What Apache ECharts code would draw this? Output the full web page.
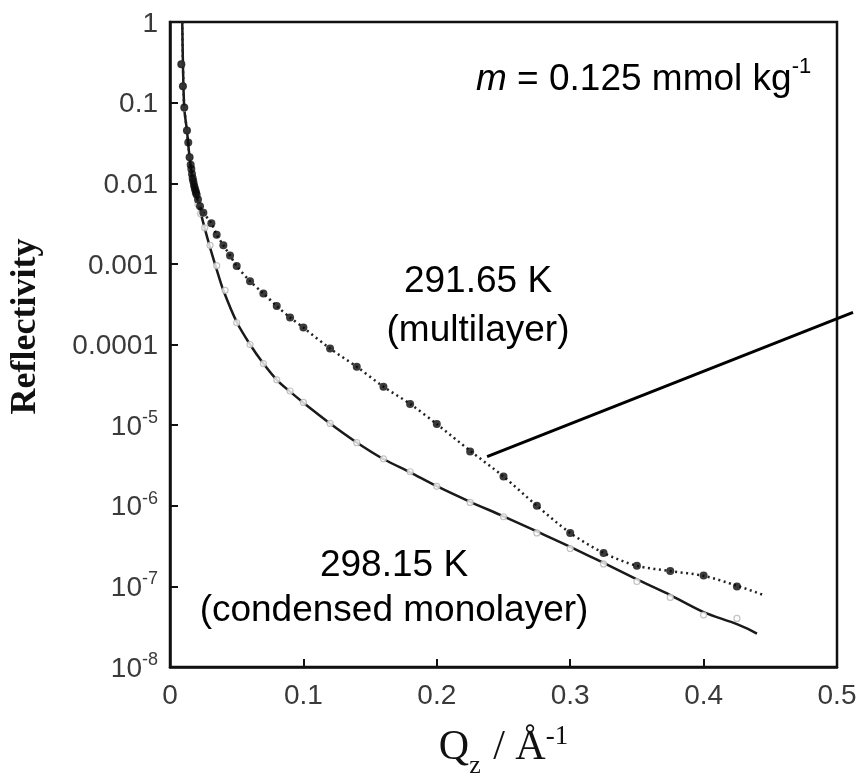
<!DOCTYPE html>
<html>
<head>
<meta charset="utf-8">
<script src="https://cdn.jsdelivr.net/npm/echarts@6/dist/echarts.min.js"></script>
<style>
  html, body { margin: 0; padding: 0; background: #fff; }
  #chart { width: 861px; height: 784px; }
</style>
</head>
<body>
<div id="chart"></div>
<script>
// 291.65 K (multilayer): measured reflectivity
const multiQ = [0.0085, 0.0097, 0.0107, 0.0127, 0.0137, 0.0147, 0.0155, 0.016, 0.0165, 0.017, 0.0175, 0.018, 0.0185, 0.019, 0.0195, 0.02, 0.021, 0.0225, 0.025, 0.031, 0.035, 0.04, 0.045, 0.05, 0.06, 0.07, 0.08, 0.09, 0.1, 0.12, 0.14, 0.16, 0.18, 0.2, 0.225, 0.25, 0.275, 0.3, 0.325, 0.35, 0.375, 0.4, 0.425];
const multiR = [0.30, 0.16, 0.087, 0.045, 0.032, 0.021, 0.017, 0.015, 0.013, 0.0115, 0.0105, 0.0095, 0.0088, 0.0082, 0.0077, 0.0072, 0.0063, 0.0052, 0.0043, 0.0032, 0.0023, 0.0017, 0.00127, 0.00094, 0.00061, 0.00043, 0.0003, 0.000216, 0.000162, 8.9e-5, 5.3e-5, 3.0e-5, 1.83e-5, 1.03e-5, 4.7e-6, 2.3e-6, 1.0e-6, 4.6e-7, 2.6e-7, 1.8e-7, 1.55e-7, 1.36e-7, 1.0e-7];

// 291.65 K model fit
const multiFitQ = [0.0092, 0.0097, 0.0107, 0.0127, 0.0147, 0.017, 0.02, 0.0225, 0.025, 0.031, 0.035, 0.04, 0.045, 0.05, 0.06, 0.07, 0.08, 0.09, 0.1, 0.12, 0.14, 0.16, 0.18, 0.2, 0.225, 0.25, 0.275, 0.3, 0.325, 0.35, 0.375, 0.4, 0.425, 0.445];
const multiFitR = [1, 0.30, 0.087, 0.045, 0.021, 0.0115, 0.0072, 0.0052, 0.0043, 0.0032, 0.0023, 0.0017, 0.00127, 0.00094, 0.00061, 0.00043, 0.0003, 0.000216, 0.000162, 8.9e-5, 5.3e-5, 3.0e-5, 1.83e-5, 1.03e-5, 4.8e-6, 2.3e-6, 1.0e-6, 4.6e-7, 2.6e-7, 1.8e-7, 1.55e-7, 1.35e-7, 1.02e-7, 7.8e-8];

// 298.15 K (condensed monolayer): measured reflectivity
const monoQ = [0.0085, 0.0097, 0.0107, 0.0127, 0.0147, 0.017, 0.019, 0.021, 0.023, 0.026, 0.03, 0.035, 0.0413, 0.05, 0.06, 0.07, 0.08, 0.09, 0.1, 0.12, 0.14, 0.16, 0.18, 0.2, 0.225, 0.25, 0.275, 0.3, 0.325, 0.35, 0.375, 0.4, 0.425];
const monoR = [0.30, 0.16, 0.085, 0.045, 0.021, 0.011, 0.0075, 0.0055, 0.0042, 0.0028, 0.0017, 0.00095, 0.00047, 0.000186, 0.0001, 5.8e-5, 3.65e-5, 2.65e-5, 1.91e-5, 1.05e-5, 6.05e-6, 3.82e-6, 2.64e-6, 1.74e-6, 1.1e-6, 7.3e-7, 4.6e-7, 2.95e-7, 1.9e-7, 1.15e-7, 7.3e-8, 4.4e-8, 4.0e-8];

// 298.15 K model fit
const monoFitQ = [0.0092, 0.0097, 0.0107, 0.0127, 0.0147, 0.017, 0.02, 0.025, 0.03, 0.035, 0.04, 0.05, 0.06, 0.07, 0.08, 0.09, 0.1, 0.12, 0.14, 0.16, 0.18, 0.2, 0.225, 0.25, 0.275, 0.3, 0.325, 0.35, 0.375, 0.4, 0.425, 0.44];
const monoFitR = [1, 0.30, 0.085, 0.045, 0.021, 0.011, 0.0068, 0.0032, 0.0016, 0.00085, 0.00047, 0.00019, 0.0001, 5.8e-5, 3.65e-5, 2.6e-5, 1.9e-5, 1.05e-5, 6.1e-6, 3.8e-6, 2.6e-6, 1.75e-6, 1.12e-6, 7.4e-7, 4.8e-7, 3.1e-7, 1.95e-7, 1.22e-7, 7.8e-8, 4.8e-8, 3.4e-8, 2.6e-8];

// Leader line from the multilayer curve out past the right edge of the frame
const pointerQ = [0.2377, 0.512];
const pointerR = [4.07e-6, 2.5e-4];

// Axis ranges and tick labels
const xTicks = [0, 0.1, 0.2, 0.3, 0.4, 0.5];
const xTickLabels = ['0', '0.1', '0.2', '0.3', '0.4', '0.5'];
const yDecades = [0, -1, -2, -3, -4, -5, -6, -7, -8];
const yTickLabels = ['1', '0.1', '0.01', '0.001', '0.0001', '10^-5', '10^-6', '10^-7', '10^-8'];

const pairs = (xs, ys) => xs.map((x, i) => [x, ys[i]]);

const chart = echarts.init(document.getElementById('chart'), null, { renderer: 'canvas' });

const sans = 'Liberation Sans, Arial, sans-serif';
const serif = 'Liberation Serif, Times New Roman, serif';
const noteSize = 37;

chart.setOption({
  backgroundColor: '#ffffff',
  animation: false,
  grid: {
    left: 168, right: 24, top: 22, bottom: 96,
    show: true, borderColor: '#111', borderWidth: 2.5, backgroundColor: 'transparent'
  },
  xAxis: {
    type: 'value',
    min: xTicks[0], max: xTicks[xTicks.length - 1], interval: 0.1,
    axisLine: { show: true, lineStyle: { color: '#111', width: 2.5 } },
    axisTick: { show: true, inside: true, length: 8, lineStyle: { color: '#111', width: 2 } },
    splitLine: { show: false },
    axisLabel: {
      margin: 15, fontFamily: sans, fontSize: 28, color: '#3a3a3a',
      formatter: v => {
        const i = xTicks.findIndex(t => Math.abs(t - v) < 1e-9);
        return i >= 0 ? xTickLabels[i] : '';
      }
    },
    name: '{q|Q}{sub|z}{q| / Å}{sup|-1}',
    nameLocation: 'middle',
    nameGap: 56,
    nameTextStyle: {
      rich: {
        q: { fontFamily: serif, fontSize: 42, color: '#111', verticalAlign: 'bottom', lineHeight: 46 },
        sub: { fontFamily: serif, fontSize: 26, color: '#111', verticalAlign: 'bottom', padding: [0, 2, -10, 0], lineHeight: 46 },
        sup: { fontFamily: serif, fontSize: 27, color: '#111', verticalAlign: 'top', lineHeight: 46 }
      }
    }
  },
  yAxis: {
    type: 'log', logBase: 10,
    min: Math.pow(10, yDecades[yDecades.length - 1]), max: Math.pow(10, yDecades[0]),
    splitNumber: 8,
    axisLine: { show: true, lineStyle: { color: '#111', width: 2.5 } },
    axisTick: { show: true, inside: true, length: 8, lineStyle: { color: '#111', width: 2 } },
    splitLine: { show: false },
    axisLabel: {
      margin: 12, fontFamily: sans, color: '#3a3a3a',
      formatter: v => {
        const e = Math.round(Math.log10(v));
        const i = yDecades.indexOf(e);
        if (i < 0) return '';
        const lab = yTickLabels[i];
        if (lab.indexOf('^') >= 0) {
          const parts = lab.split('^');
          return '{n|' + parts[0] + '}{s|' + parts[1] + '}';
        }
        return '{n|' + lab + '}';
      },
      rich: {
        n: { fontFamily: sans, fontSize: 28, color: '#3a3a3a', verticalAlign: 'bottom', lineHeight: 32 },
        s: { fontFamily: sans, fontSize: 18, color: '#3a3a3a', verticalAlign: 'top', lineHeight: 32 }
      }
    },
    name: 'Reflectivity',
    nameLocation: 'middle',
    nameRotate: 90,
    nameGap: 126,
    nameTextStyle: { fontFamily: serif, fontWeight: 'bold', fontSize: 36, color: '#111', padding: [0, 0, 0, 36] }
  },
  series: [
    {
      name: '298.15 K fit', type: 'line', data: pairs(monoFitQ, monoFitR),
      showSymbol: false, smooth: 0.3, z: 2,
      lineStyle: { color: '#1a1a1a', width: 2.5 }
    },
    {
      name: '291.65 K fit', type: 'line', data: pairs(multiFitQ, multiFitR),
      showSymbol: false, smooth: 0.3, z: 2,
      lineStyle: { color: '#222', width: 2.5, type: [2, 3.5] }
    },
    {
      name: '298.15 K', type: 'scatter', data: pairs(monoQ, monoR),
      symbol: 'circle', symbolSize: 6, z: 3,
      itemStyle: { color: '#ffffff', borderColor: '#b4b4b4', borderWidth: 1.2 }
    },
    {
      name: '291.65 K', type: 'scatter', data: pairs(multiQ, multiR),
      symbol: 'circle', symbolSize: 8, z: 4,
      itemStyle: { color: '#0a0a0a' }
    }
  ],
  graphic: [
    {
      type: 'text', left: 476, top: 56, z: 10,
      style: {
        text: '{i|m}{t| = 0.125 mmol kg}{s|-1}',
        rich: {
          i: { fontFamily: sans, fontStyle: 'italic', fontSize: noteSize, fill: '#000', verticalAlign: 'bottom', lineHeight: 42 },
          t: { fontFamily: sans, fontSize: noteSize, fill: '#000', verticalAlign: 'bottom', lineHeight: 42 },
          s: { fontFamily: sans, fontSize: 22, fill: '#000', verticalAlign: 'top', lineHeight: 42 }
        }
      }
    },
    {
      type: 'text', x: 478, y: 282, z: 10,
      style: { text: '291.65 K', fontFamily: sans, fontSize: noteSize, fill: '#000', align: 'center', verticalAlign: 'middle' }
    },
    {
      type: 'text', x: 478, y: 331, z: 10,
      style: { text: '(multilayer)', fontFamily: sans, fontSize: noteSize, fill: '#000', align: 'center', verticalAlign: 'middle' }
    },
    {
      type: 'text', x: 394, y: 566, z: 10,
      style: { text: '298.15 K', fontFamily: sans, fontSize: noteSize, fill: '#000', align: 'center', verticalAlign: 'middle' }
    },
    {
      type: 'text', x: 394, y: 611, z: 10,
      style: { text: '(condensed monolayer)', fontFamily: sans, fontSize: noteSize, fill: '#000', align: 'center', verticalAlign: 'middle' }
    }
  ]
});

// The leader line runs beyond the plot frame, so it is placed as a graphic
// whose end points come from the axes' own data-to-pixel conversion.
const p0 = chart.convertToPixel({ gridIndex: 0 }, [pointerQ[0], pointerR[0]]);
const p1 = chart.convertToPixel({ gridIndex: 0 }, [pointerQ[1], pointerR[1]]);
chart.setOption({
  graphic: [{
    id: 'leader', type: 'line', z: 20,
    shape: { x1: p0[0], y1: p0[1], x2: p1[0], y2: p1[1] },
    style: { stroke: '#000', lineWidth: 3 }
  }]
});
</script>
</body>
</html>
